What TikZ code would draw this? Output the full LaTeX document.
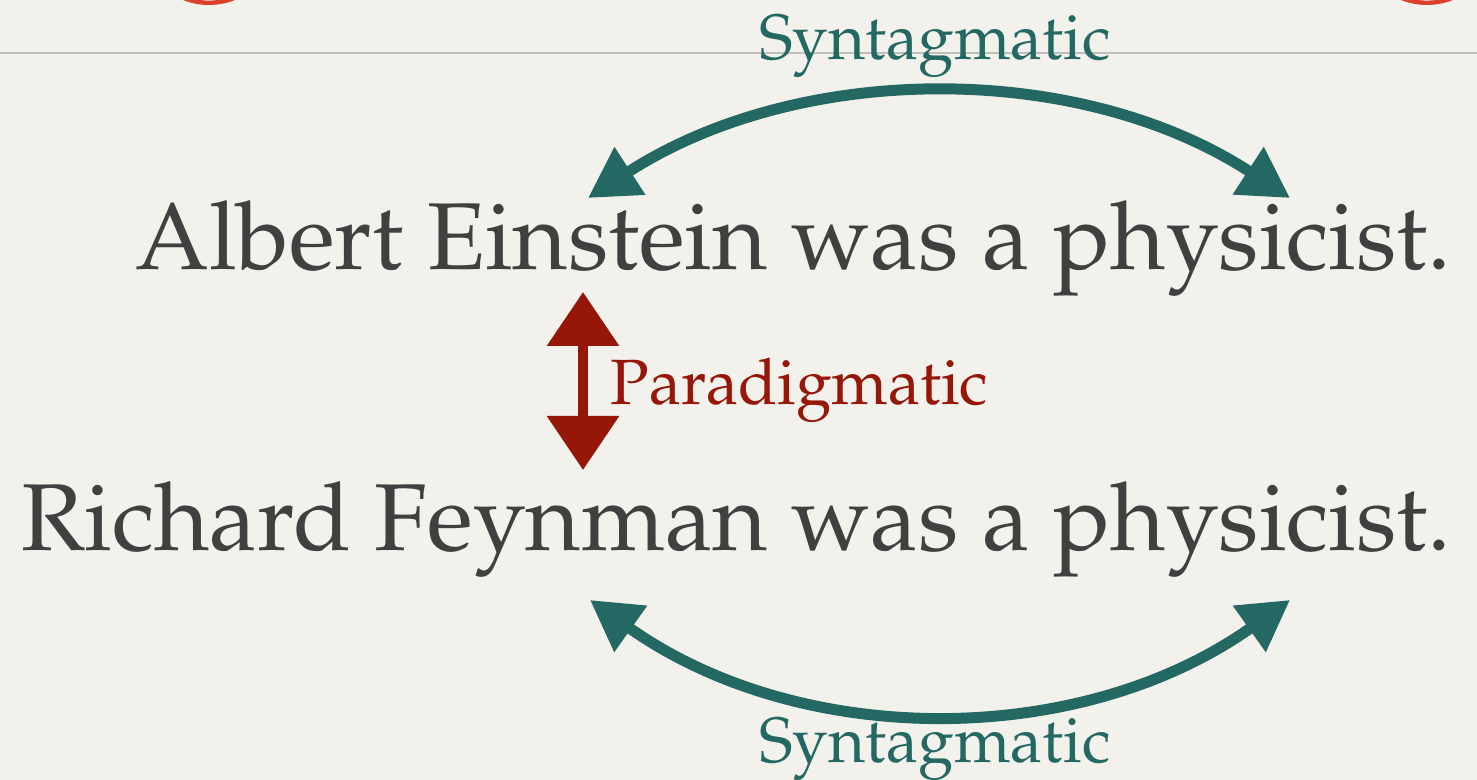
\documentclass[tikz,border=0pt]{standalone}
\usepackage[T1]{fontenc}
\usepackage{mathpazo}
\usetikzlibrary{arrows.meta}
\definecolor{paper}{RGB}{243,241,236}
\definecolor{synteal}{RGB}{36,104,99}
\definecolor{parared}{RGB}{150,22,8}
\definecolor{inkgray}{RGB}{64,64,64}
\definecolor{rulegray}{RGB}{192,190,185}
\definecolor{dotred}{RGB}{218,64,42}

\begin{document}
\begin{tikzpicture}[x=0.5pt, y=-0.5pt,
    sentence/.style={inner sep=0pt, text=inkgray, font=\fontsize{47.5}{52}\selectfont},
    relword/.style={inner sep=0pt, font=\fontsize{32}{36}\selectfont},
    synarrow/.style={synteal, line width=5.5pt, {Triangle[length=25pt,width=27pt]}-{Triangle[length=25pt,width=27pt]}},
    pararrow/.style={parared, line width=5pt, {Triangle[length=27pt,width=35pt]}-{Triangle[length=27pt,width=35pt]}}]
  \fill[paper] (0,0) rectangle (1477,780);
  \clip (0,0) rectangle (1477,780);
  % slide header
  \draw[rulegray, line width=1pt] (0,53) -- (1477,53);
  \draw[dotred, line width=2.2pt] (209,-65) circle[radius=67.8];
  \draw[dotred, line width=2.2pt] (1427,-65) circle[radius=67.8];
  % the two sentences
  \node[sentence, anchor=base east] (einstein) at (1452,270) {Albert Einstein was a physicist.};
  \node[sentence, anchor=base east] (feynman) at (1452,550) {Richard Feynman was a physicist.};
  % relations
  \node[relword, text=synteal, anchor=base] (syntop) at (935,60) {Syntagmatic};
  \node[relword, text=synteal, anchor=base] (synbot) at (935,762) {Syntagmatic};
  \node[relword, text=parared, anchor=base west] (para) at (610,405) {Paradigmatic};
  \coordinate (synA1) at (588,198);
  \coordinate (synA2) at (1290,198);
  \coordinate (synB1) at (590,600);
  \coordinate (synB2) at (1290,600);
  \coordinate (paraup) at (583,292);
  \coordinate (paradown) at (583,470);
  \draw[synarrow] (synA1) .. controls (800,61) and (1080,61) .. (synA2);
  \draw[synarrow] (synB1) .. controls (800,749) and (1080,749) .. (synB2);
  \draw[pararrow] (paraup) -- (paradown);
\end{tikzpicture}
\end{document}
